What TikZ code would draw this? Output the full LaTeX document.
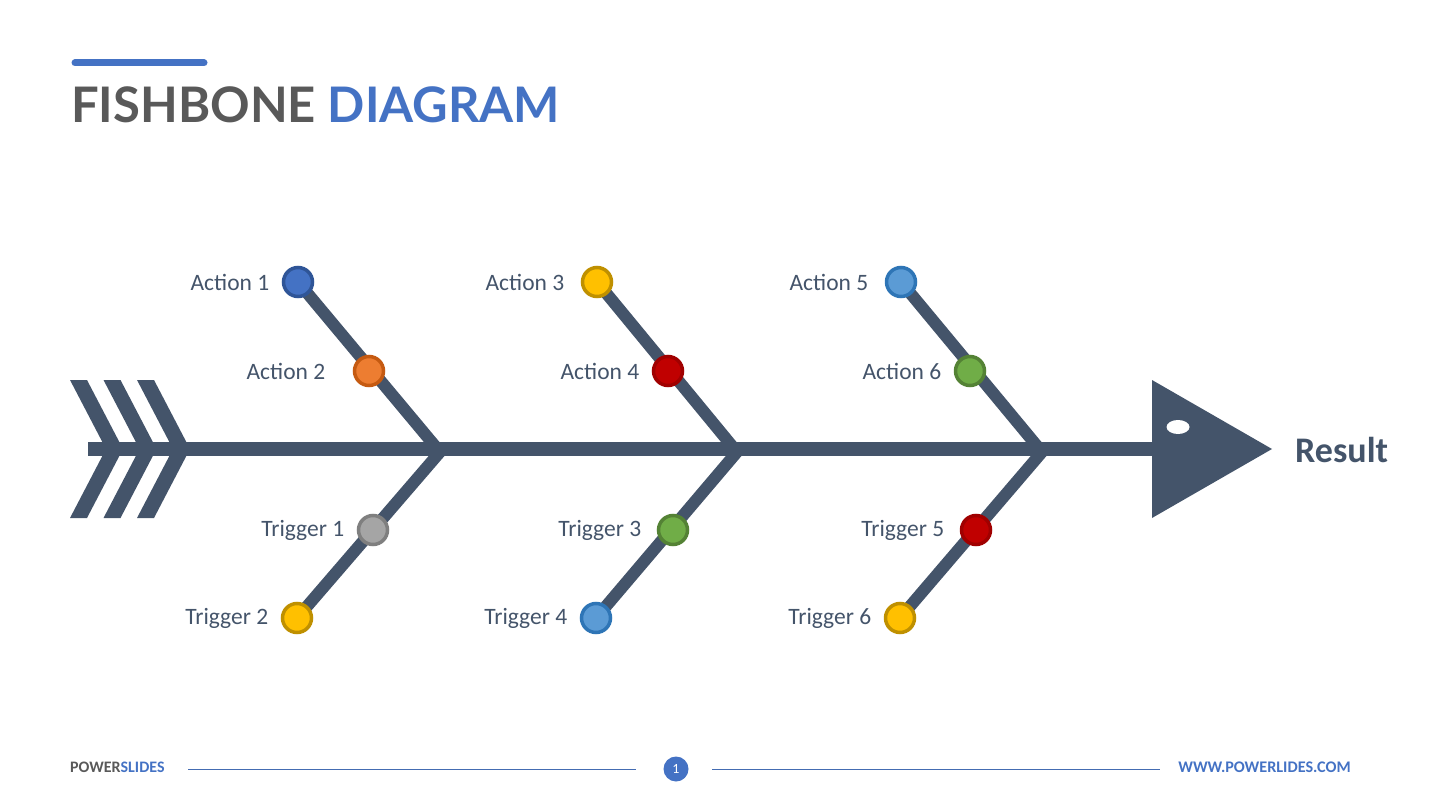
\documentclass[tikz,border=0pt]{standalone}
\usepackage{fontspec}
\setmainfont{Carlito}
\newfontfamily\latofont{Lato}
\usetikzlibrary{positioning}

\definecolor{slate}{HTML}{44546A}
\definecolor{psblue}{HTML}{4472C4}
\definecolor{psgrey}{HTML}{595959}
\definecolor{cblue}{HTML}{4472C4}
\definecolor{cblueD}{HTML}{2F5597}
\definecolor{corange}{HTML}{ED7D31}
\definecolor{corangeD}{HTML}{C55A11}
\definecolor{cyellow}{HTML}{FFC000}
\definecolor{cyellowD}{HTML}{BF9000}
\definecolor{cred}{HTML}{C00000}
\definecolor{credD}{HTML}{A00000}
\definecolor{clight}{HTML}{5B9BD5}
\definecolor{clightD}{HTML}{2E75B6}
\definecolor{cgreen}{HTML}{70AD47}
\definecolor{cgreenD}{HTML}{548235}
\definecolor{cgrey}{HTML}{A5A5A5}
\definecolor{cgreyD}{HTML}{7F7F7F}

\begin{document}
\begin{tikzpicture}[
    x=1pt, y=-1pt,
    bone/.style={draw=slate, line width=12pt},
    dot/.style={circle, draw=#1D, fill=#1, line width=3.5pt, minimum size=29pt, inner sep=0pt},
    lbl/.style={text=slate, font=\fontsize{23.5}{23.5}\selectfont},
    every label/.style={lbl},
    label distance=9pt
  ]
  \useasboundingbox (0,0) rectangle (1451,810);

  % title
  \draw[psblue, line width=7pt, line cap=round] (75,63) -- (204,63);
  \node[anchor=base west, inner sep=0pt, font=\latofont\bfseries\fontsize{49}{49}\selectfont] (title) at (71,123)
    {\textcolor{psgrey}{FISHBONE} \textcolor{psblue}{DIAGRAM}};

  % spine, tail and head
  \coordinate (tail) at (88,449);
  \coordinate (head) at (1160,449);
  \draw[draw=slate, line width=14pt] (tail) -- (head);
  \foreach \dx in {0,33.5,67}
    \fill[slate] (70+\dx,380) -- (87+\dx,380) -- (123+\dx,449) -- (87+\dx,518)
      -- (70+\dx,518) -- (106+\dx,449) -- cycle;
  \fill[slate] (1152,380) -- (1272,449) -- (1152,518) -- cycle;
  \fill[white] (1178,427) ellipse [x radius=11.5pt, y radius=7pt];
  \node[anchor=west, inner sep=0pt, text=slate, font=\bfseries\fontsize{36}{36}\selectfont] (result) at (1295,450) {Result};

  % junctions on the spine
  \coordinate (j1) at (440,452);
  \coordinate (j2) at (737,452);
  \coordinate (j3) at (1042,452);

  % bones
  \draw[bone] (j1) -- (298,282);
  \draw[bone] (j1) -- (297,618);
  \draw[bone] (j2) -- (597,282);
  \draw[bone] (j2) -- (596,618);
  \draw[bone] (j3) -- (901,282);
  \draw[bone] (j3) -- (900,618);

  % causes
  \node[dot=cblue,   label=left:Action 1]  (a1) at (298,282) {};
  \node[dot=corange, label={[label distance=24pt]left:Action 2}] (a2) at (369,371) {};
  \node[dot=cyellow, label={[label distance=13pt]left:Action 3}] (a3) at (597,282) {};
  \node[dot=cred,    label=left:Action 4]  (a4) at (668,371) {};
  \node[dot=clight,  label={[label distance=13pt]left:Action 5}] (a5) at (901,282) {};
  \node[dot=cgreen,  label=left:Action 6]  (a6) at (970,371) {};
  \node[dot=cgrey,   label=left:Trigger 1] (t1) at (373,530) {};
  \node[dot=cyellow, label=left:Trigger 2] (t2) at (297,618) {};
  \node[dot=cgreen,  label={[label distance=12pt]left:Trigger 3}] (t3) at (673,530) {};
  \node[dot=clight,  label=left:Trigger 4] (t4) at (596,618) {};
  \node[dot=cred,    label={[label distance=12pt]left:Trigger 5}] (t5) at (976,530) {};
  \node[dot=cyellow, label=left:Trigger 6] (t6) at (900,618) {};

  % footer
  \node[anchor=base west, inner sep=0pt, font=\bfseries\fontsize{16}{16}\selectfont] (brand) at (70,772)
    {\textcolor{psgrey}{POWER}\textcolor{psblue}{SLIDES}};
  \node[circle, fill=psblue, minimum size=25pt, inner sep=0pt, text=white, font=\fontsize{14}{14}\selectfont] (page) at (676,769) {1};
  \node[anchor=base east, inner sep=0pt, text=psblue, font=\bfseries\fontsize{16.2}{16.2}\selectfont] (web) at (1351,772) {WWW.POWERLIDES.COM};
  \draw[draw=psblue!80!slate, line width=1pt] (188,769) -- (636,769);
  \draw[draw=psblue!80!slate, line width=1pt] (712,769) -- (1160,769);
\end{tikzpicture}
\end{document}
